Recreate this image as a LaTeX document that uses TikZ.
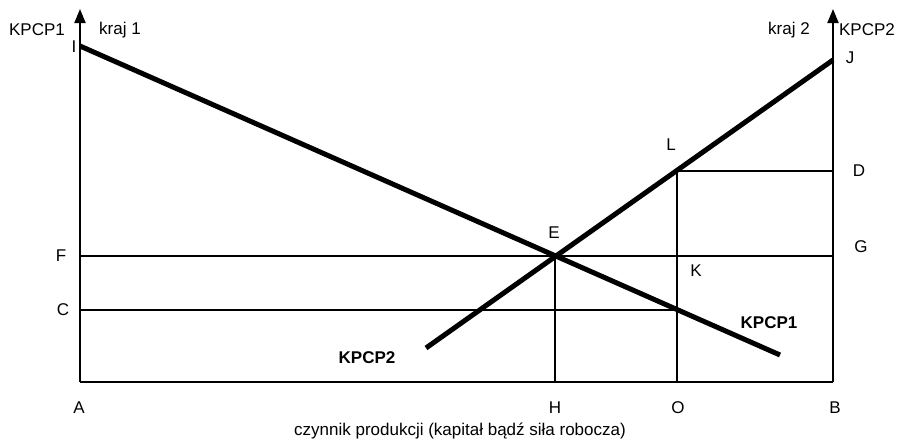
\documentclass[tikz,border=0pt]{standalone}
\usepackage{fontspec}
\setmainfont{Liberation Sans}
\usetikzlibrary{arrows.meta}
\begin{document}
\begin{tikzpicture}[x=1pt,y=-1pt,
  axis/.style={line width=2pt},
  thin/.style={line width=2pt},
  curve/.style={line width=5pt},
  lab/.style={font=\fontsize{17}{17}\selectfont, inner sep=0pt},
  blab/.style={font=\fontsize{17}{17}\selectfont\bfseries, inner sep=0pt}]
\useasboundingbox (0,0) rectangle (903,442);
% points
\coordinate (A) at (80,382);
\coordinate (B) at (833,382);
\coordinate (Ytop1) at (80,9);
\coordinate (Ytop2) at (833,9);
\coordinate (I) at (80,46);
\coordinate (P1end) at (780,355);
\coordinate (P2start) at (426,348);
\coordinate (J) at (833,60);
\coordinate (E) at (555,256);
\coordinate (F) at (80,256);
\coordinate (G) at (833,256);
\coordinate (C) at (80,310);
\coordinate (Kc) at (677,310);
\coordinate (L) at (677,171);
\coordinate (D) at (833,171);
\coordinate (H) at (555,382);
\coordinate (O) at (677,382);
% axes
\draw[axis,-{Triangle[length=14pt,width=11pt]}] (A) -- (Ytop1);
\draw[axis,-{Triangle[length=14pt,width=11pt]}] (B) -- (Ytop2);
\draw[axis] (A) -- (B);
% thin lines
\draw[thin] (F) -- (G);
\draw[thin] (C) -- (Kc);
\draw[thin] (L) -- (D);
\draw[thin] (E) -- (H);
\draw[thin] (L) -- (O);
% curves
\draw[curve] (I) -- (P1end);
\draw[curve] (P2start) -- (J);
% labels
\node[lab] (tK1) at (37,30) {KPCP1};
\node[lab] (tk1) at (120,30) {kraj 1};
\node[lab] (tI) at (74,47) {I};
\node[lab] (tk2) at (789,30) {kraj 2};
\node[lab] (tK2) at (867,30) {KPCP2};
\node[lab] (tJ) at (850,58) {J};
\node[lab] (tL) at (671,145) {L};
\node[lab] (tD) at (859,171) {D};
\node[lab] (tE) at (554,233) {E};
\node[lab] (tG) at (861,247) {G};
\node[lab] (tF) at (61,256) {F};
\node[lab] (tC) at (63,310) {C};
\node[lab] (tKK) at (696,271) {K};
\node[blab] (bK1) at (769,323) {KPCP1};
\node[blab] (bK2) at (367,358) {KPCP2};
\node[lab] (tA) at (79,408) {A};
\node[lab] (tH) at (555,408) {H};
\node[lab] (tO) at (678,408) {O};
\node[lab] (tB) at (835,408) {B};
\node[lab] (axl) at (460,431) {czynnik produkcji (kapitał bądź siła robocza)};
\end{tikzpicture}
\end{document}
